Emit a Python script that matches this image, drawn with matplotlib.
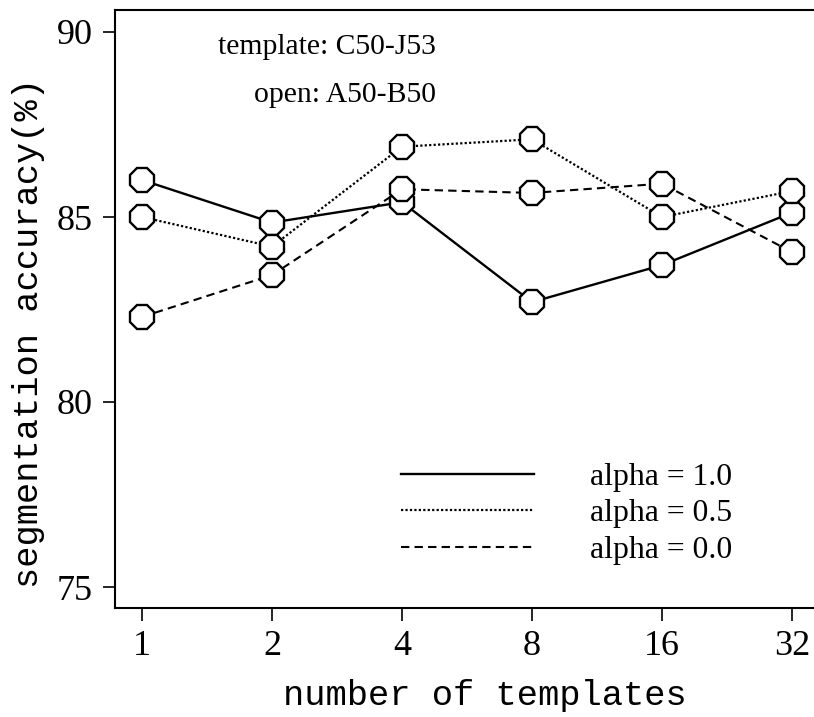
import matplotlib
matplotlib.use("Agg")
import matplotlib.pyplot as plt
from matplotlib.ticker import FixedLocator, FixedFormatter, NullLocator

# number of templates and segmentation accuracy (%) for each alpha
n_templates = [1, 2, 4, 8, 16, 32]
acc_alpha10 = [86.0, 84.85, 85.4, 82.7, 83.7, 85.12]
acc_alpha05 = [85.0, 84.2, 86.9, 87.1, 85.0, 85.7]
acc_alpha00 = [82.3, 83.43, 85.75, 85.65, 85.9, 84.05]
series_labels = ["alpha = 1.0", "alpha = 0.5", "alpha = 0.0"]
y_ticks = [75, 80, 85, 90]

serif = ["Liberation Serif", "DejaVu Serif"]
mono = ["Liberation Mono", "DejaVu Sans Mono"]

fig = plt.figure(figsize=(8.14, 7.17), dpi=100)
ax = fig.add_axes([115 / 814, 1 - 608 / 717, 699 / 814, 598 / 717])

styles = [
    dict(linestyle="-", linewidth=1.7),
    dict(linestyle=(0, (1, 1)), linewidth=1.6),
    dict(linestyle=(0, (4, 2.5)), linewidth=1.5),
]
for ys, lab, st in zip([acc_alpha10, acc_alpha05, acc_alpha00], series_labels, styles):
    ax.plot(n_templates, ys, color="black", label=lab, marker="8", markersize=18.5,
            markerfacecolor="white", markeredgecolor="black", markeredgewidth=1.7,
            **st)

ax.set_xscale("log", base=2)
ax.set_xlim(2 ** -0.2077, 2 ** 5.169)
ax.set_ylim(75 - 21 / 37, 90 + 22 / 37)

ax.xaxis.set_major_locator(FixedLocator(n_templates))
ax.xaxis.set_major_formatter(FixedFormatter([str(n) for n in n_templates]))
ax.xaxis.set_minor_locator(NullLocator())
ax.set_yticks(y_ticks)
ax.set_yticklabels([str(v) for v in y_ticks])

ax.spines["right"].set_visible(False)
for s in ["left", "top", "bottom"]:
    ax.spines[s].set_linewidth(1.5)
ax.tick_params(direction="out", length=9, width=1.2, pad=7, labelsize=26)
for t in ax.get_xticklabels() + ax.get_yticklabels():
    t.set_family(serif)

ax.set_xlabel("number of templates", family=mono, fontsize=25.5)
ax.set_ylabel("segmentation accuracy(%)", family=mono, fontsize=25.5)
ax.xaxis.set_label_coords(0.529, -0.118)
ax.yaxis.set_label_coords(-0.100, 0.46)

fig.text(436 / 814, 1 - 47 / 717, "template: C50-J53", family=serif, fontsize=21.3,
         ha="right", va="center")
fig.text(436 / 814, 1 - 95 / 717, "open: A50-B50", family=serif, fontsize=21.3,
         ha="right", va="center")

leg = ax.legend(loc="upper left", bbox_to_anchor=(372 / 814, 1 - 434 / 717),
                bbox_transform=fig.transFigure, frameon=False,
                prop={"family": serif, "size": 22.8}, handlelength=4.2,
                handletextpad=1.8, labelspacing=0.24)
for h in leg.legend_handles:
    h.set_marker("")

fig.savefig("out.png", dpi=100)
